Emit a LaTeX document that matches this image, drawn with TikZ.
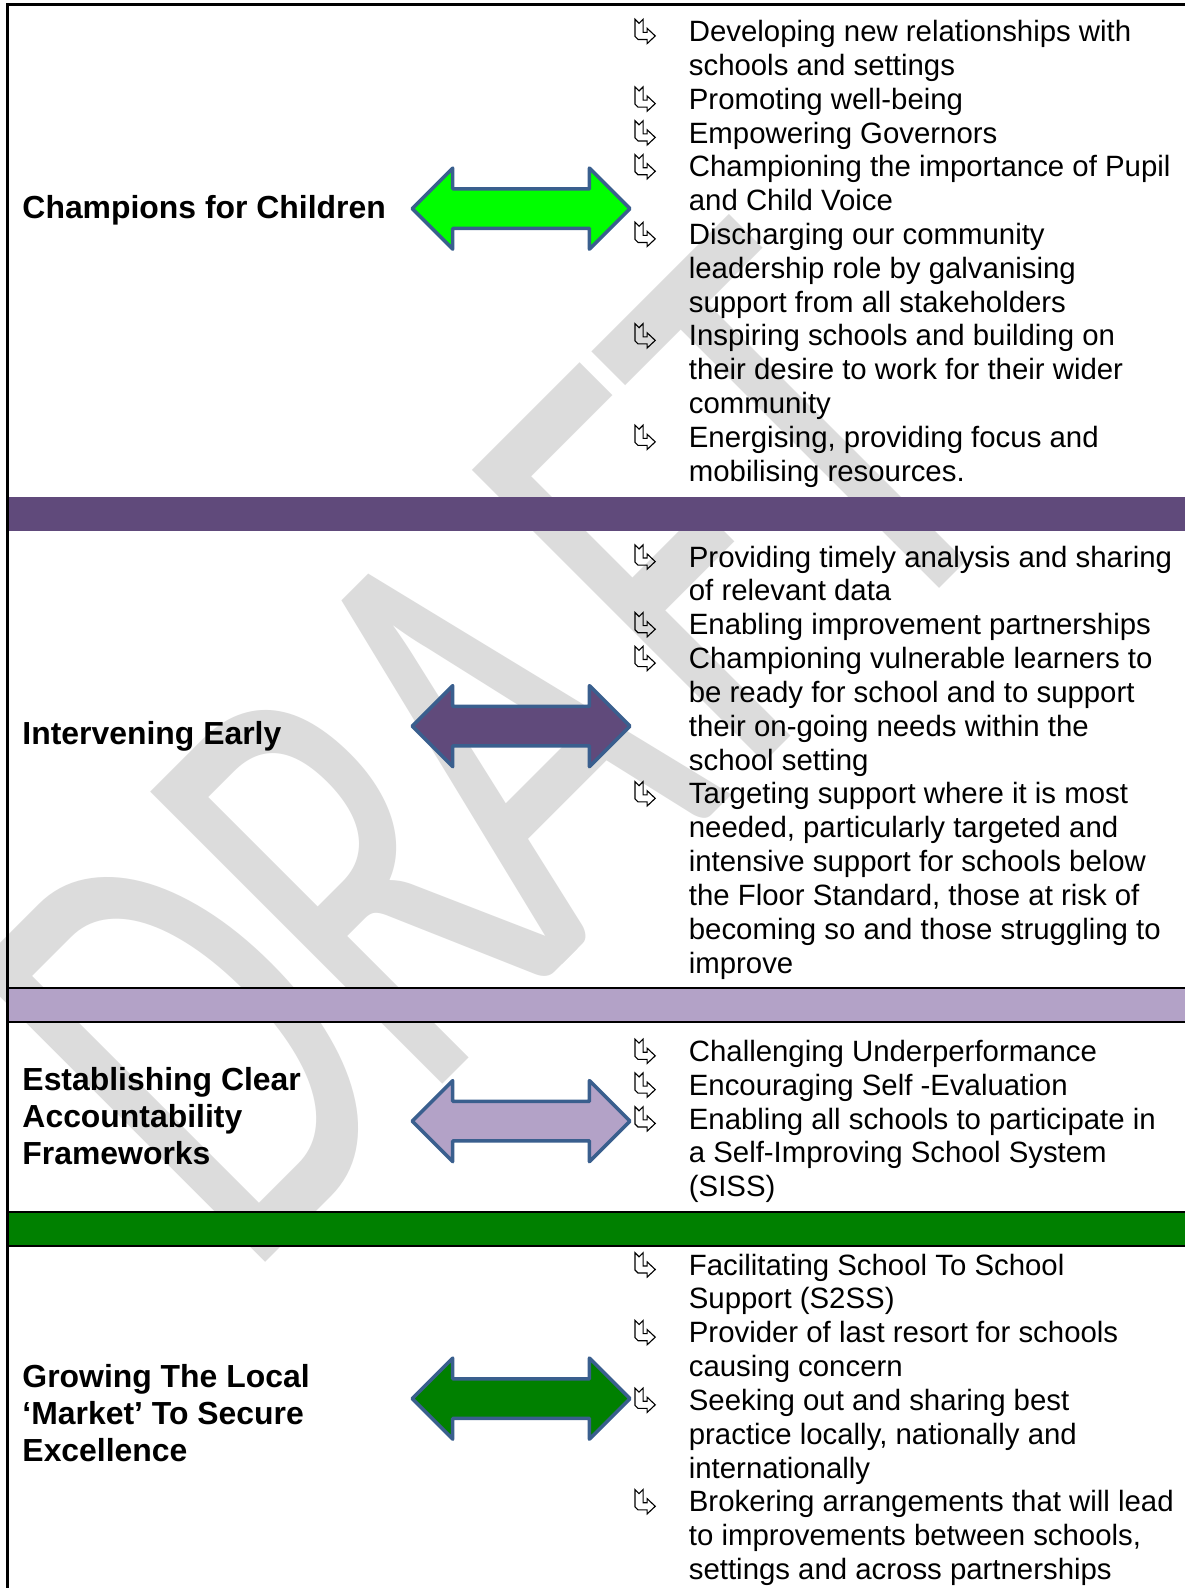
\documentclass[tikz,border=0pt]{standalone}
\usepackage{graphicx}
\usepackage{fontspec}
\setmainfont{Liberation Sans}
\newfontfamily\wmfont{Carlito}
\definecolor{bandA}{HTML}{604A7B}
\definecolor{bandB}{HTML}{B3A2C7}
\definecolor{bandC}{HTML}{008000}
\definecolor{arrline}{HTML}{3A5F8E}
\definecolor{brightgreen}{HTML}{00FF00}
\definecolor{wmgray}{HTML}{DCDCDC}
\tikzset{
  lbl/.style={anchor=base west, inner sep=0pt, font=\fontsize{31.5}{36.5}\selectfont\bfseries},
  itm/.style={anchor=base west, inner sep=0pt, font=\fontsize{29}{33.4}\selectfont},
  wmletter/.style={anchor=base west, inner sep=0pt, rotate=45, text=wmgray,
     font=\wmfont\fontsize{450}{450}\selectfont},
  dblarrow/.style={draw=arrline, line width=3.5pt, line join=round},
  rule/.style={draw=black, line width=2pt},
  ribbon/.pic={\draw[line width=1.1pt, line join=miter]
     (-10,-12) -- (-6,-8) -- (-2,-12) -- (-2,1) -- (2,1) -- (2,-3) -- (10,4.5)
     -- (2,12) -- (2,8) -- (-7,8) -- (-10,5) -- cycle;},
}
\newcommand\twoway[2]{% ycenter, fill
  \draw[dblarrow, fill=#2] (407,#1) -- (447,#1-40) -- (447,#1-19.5) -- (582,#1-19.5)
    -- (582,#1-40) -- (622,#1) -- (582,#1+40) -- (582,#1+19.5) -- (447,#1+19.5)
    -- (447,#1+40) -- cycle;}
% watermark letter: name, distance along the baseline, letter
\newcommand\wmput[3]{\node[wmletter] (#1) at ({202+0.7071*#2},{1306-0.7071*#2}) {\scalebox{0.92}[1.413]{#3}};}
\begin{document}
\begin{tikzpicture}[x=1pt,y=-1pt]
\useasboundingbox (0,0) rectangle (1170,1568);
\fill[white] (0,0) rectangle (1170,1568);
% watermark
\wmput{wmD}{56.5}{D}
\wmput{wmR}{302.5}{R}
\wmput{wmA}{498}{A}
\wmput{wmF}{753.5}{F}
\wmput{wmT}{943}{T}
% bands and rules
\fill[bandA] (7,491) rectangle (1170,524);
\fill[bandB] (7,976) rectangle (1170,1009);
\fill[bandC] (7,1197) rectangle (1170,1230);
\draw[rule] (7,975.5) -- (1170,975.5);
\draw[rule] (7,1009.5) -- (1170,1009.5);
\draw[rule] (7,1196.5) -- (1170,1196.5);
\draw[rule] (7,1230.5) -- (1170,1230.5);
\draw[draw=black, line width=2.5pt] (7.5,1568) -- (7.5,4.5) -- (1170,4.5);
% arrows
\twoway{206}{brightgreen}
\twoway{717}{bandA}
\twoway{1107}{bandB}
\twoway{1381}{bandC}
% left labels
\node[lbl] (l1) at (22,216) {Champions for Children};
\node[lbl] (l2) at (22,735) {Intervening Early};
\node[lbl] (l3a) at (22,1077) {Establishing Clear};
\node[lbl] (l3b) at (22,1113.5) {Accountability};
\node[lbl] (l3c) at (22,1150) {Frameworks};
\node[lbl] (l4a) at (22,1370) {Growing The Local};
\node[lbl] (l4b) at (22,1406.5) {‘Market’ To Secure};
\node[lbl] (l4c) at (22,1443) {Excellence};
% right column
\foreach \t [count=\i from 0] in {Developing new relationships with, schools and settings, Promoting well-being, Empowering Governors, Championing the importance of Pupil, and Child Voice, Discharging our community, leadership role by galvanising, support from all stakeholders, Inspiring schools and building on, their desire to work for their wider, community, {Energising, providing focus and}, mobilising resources.}
  \node[itm] (a\i) at (680,{41+33.4*\i}) {\t};
\foreach \t [count=\i from 0] in {Providing timely analysis and sharing, of relevant data, Enabling improvement partnerships, Championing vulnerable learners to, be ready for school and to support, their on-going needs within the, school setting, Targeting support where it is most, {needed, particularly targeted and}, intensive support for schools below, {the Floor Standard, those at risk of}, becoming so and those struggling to, improve}
  \node[itm] (b\i) at (680,{560+33.4*\i}) {\t};
\foreach \t [count=\i from 0] in {Challenging Underperformance, Encouraging Self -Evaluation, Enabling all schools to participate in, a Self-Improving School System, (SISS)}
  \node[itm] (c\i) at (680,{1048+33.4*\i}) {\t};
\foreach \t [count=\i from 0] in {Facilitating School To School, Support (S2SS), Provider of last resort for schools, causing concern, Seeking out and sharing best, {practice locally, nationally and}, internationally, Brokering arrangements that will lead, {to improvements between schools,}, settings and across partnerships}
  \node[itm] (d\i) at (680,{1259+33.4*\i}) {\t};
% bullets
\foreach \i in {0,2,3,4,6,9,12} \pic at ([shift={(-43,-10)}]a\i.base west) {ribbon};
\foreach \i in {0,2,3,7} \pic at ([shift={(-43,-10)}]b\i.base west) {ribbon};
\foreach \i in {0,1,2} \pic at ([shift={(-43,-10)}]c\i.base west) {ribbon};
\foreach \i in {0,2,4,7} \pic at ([shift={(-43,-10)}]d\i.base west) {ribbon};
\end{tikzpicture}
\end{document}
